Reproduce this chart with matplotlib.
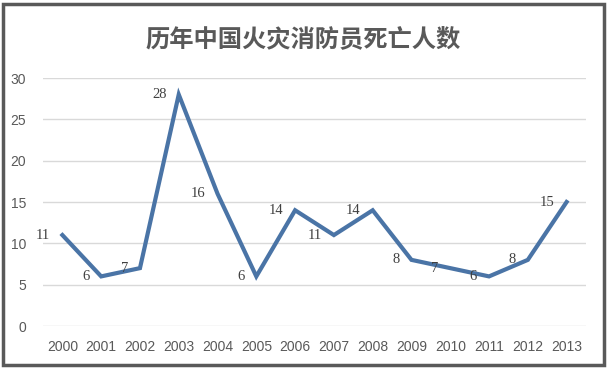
import matplotlib.pyplot as plt
from matplotlib.patches import Rectangle

plt.rcParams['font.family'] = ['Noto Sans CJK SC', 'DejaVu Sans']

years = ['2000', '2001', '2002', '2003', '2004', '2005', '2006',
         '2007', '2008', '2009', '2010', '2011', '2012', '2013']
deaths = [11, 6, 7, 28, 16, 6, 14, 11, 14, 8, 7, 6, 8, 15]
yticks = [0, 5, 10, 15, 20, 25, 30]

grey = '#595959'
line_color = '#4a74a6'

W, H = 609, 371
fig = plt.figure(figsize=(W / 100, H / 100), dpi=100)

# plot area, from pixel positions of the reference
left, right, top, bottom = 43, 586, 78, 326
ax = fig.add_axes([left / W, (H - bottom) / H, (right - left) / W, (bottom - top) / H])

x = list(range(len(years)))
ax.plot(x, deaths, color=line_color, linewidth=3, solid_joinstyle='miter')

for xi, v in zip(x, deaths):
    ax.annotate(str(v), (xi, v), xytext=(-12, 0), textcoords='offset pixels',
                ha='right', va='center', fontsize=10.5, color='#404040',
                family='Liberation Serif')

ax.set_xlim(-0.5, len(years) - 0.5)
ax.set_ylim(0, 30)
ax.set_xticks(x)
ax.set_xticklabels(years, family='Liberation Sans', fontsize=10, color=grey)
ax.set_yticks(yticks)
ax.set_yticklabels([str(t) for t in yticks], family='Liberation Sans', fontsize=10, color=grey)
ax.tick_params(length=0)
ax.tick_params(axis='x', pad=10)
ax.tick_params(axis='y', pad=12)
ax.grid(axis='y', color='#d9d9d9', linewidth=1)
ax.set_axisbelow(True)
for s in ax.spines.values():
    s.set_visible(False)

fig.text(303 / W, 1 - 40 / H, '历年中国火灾消防员死亡人数', ha='center', va='center',
         fontsize=17.5, fontweight='bold', color=grey)

# outer frame
fig.patches.append(Rectangle((3 / W, (H - 365) / H), 601 / W, 361 / H,
                             transform=fig.transFigure, fill=False,
                             edgecolor=grey, linewidth=2.5))

fig.savefig('out.png', dpi=100)
